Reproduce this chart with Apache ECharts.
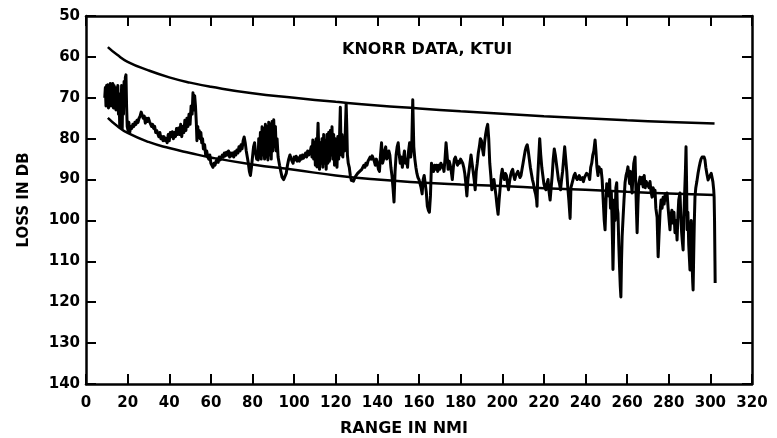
<!DOCTYPE html>
<html>
<head>
<meta charset="utf-8">
<script src="https://cdn.jsdelivr.net/npm/echarts@6/dist/echarts.min.js"></script>
<style>html,body{margin:0;padding:0;background:#fff;}#c{width:777px;height:438px;}</style>
</head>
<body>
<div id="c"></div>
<script>
// ---- data ----
const titleText = 'KNORR DATA, KTUI';
const xName = 'RANGE IN NMI';
const yName = 'LOSS IN DB';

// upper smooth bound [range, loss]
const upperCurve = [[10.5,57.6],[15,59.5],[20,61.2],[30,63.3],[40,65],[50,66.3],[60,67.3],[80,68.9],[100,70],[120,71],[140,71.9],[160,72.6],[180,73.3],[200,73.9],[220,74.5],[240,75],[260,75.5],[280,75.9],[302,76.3]];

// lower smooth bound [range, loss]
const lowerCurve = [[10.5,74.9],[15,76.9],[20,78.6],[30,80.8],[40,82.3],[50,83.5],[60,84.6],[80,86.3],[100,87.6],[120,89],[140,90],[160,90.7],[180,91.2],[200,91.6],[220,92.1],[240,92.5],[260,93],[280,93.4],[302,93.8]];

// measured loss [range, loss]
const measured = [[9,70],[9.3,67.5],[9.6,72],[9.9,67],[10.2,71.5],[10.5,66.8],[10.8,72.5],[11.1,67],[11.4,71],[11.7,66.5],[12,72],[12.3,67.5],[12.6,71.5],[12.9,66.5],[13.2,72.5],[13.5,67],[13.8,71],[14.1,67.5],[14.4,73],[14.7,68],[15,71.5],[15.3,67],[15.6,74],[15.9,69],[16.2,77],[16.5,70],[16.8,76],[17.1,67],[17.4,77.5],[17.7,68],[18,74],[18.3,66],[18.6,71],[18.9,65],[19.2,64.4],[19.5,72],[19.8,77],[20.2,78],[20.6,76],[21,78.5],[21.5,77],[22,77.5],[22.5,76.5],[23,77],[23.5,76],[24,76.5],[24.5,75.5],[25,76],[25.5,75],[26,74.5],[26.5,73.5],[27,73.5],[27.5,75],[28,74.5],[28.5,76.2],[29,75],[29.5,75.8],[30,75],[30.5,75.8],[31,76],[31.5,77],[32,76.5],[32.5,77.5],[33,77],[33.5,78.5],[34,78],[34.5,78.8],[35,79.5],[35.5,78.5],[36,80],[36.5,79.5],[37,80.5],[37.5,79.5],[38,80.5],[38.5,80],[39,81],[39.5,79],[40,80.5],[40.5,78.5],[41,79.5],[41.5,78.3],[42,80],[42.5,78.5],[43,79.5],[43.5,77.5],[44,79],[44.5,77.4],[45,79],[45.5,76.5],[46,79.5],[46.5,77],[47,78.5],[47.5,75.5],[48,78],[48.5,75],[49,77],[49.5,74],[50,76.5],[50.5,72],[51,74],[51.4,68.8],[51.8,73],[52.2,69.5],[52.6,72],[53,76],[53.3,80.5],[53.7,77],[54,79.5],[54.4,78],[54.8,80],[55.2,78.5],[55.6,81],[56,80],[56.4,82.5],[57,81.5],[57.5,84],[58,83],[58.5,84.5],[59,85],[59.5,84],[60,86],[60.5,86.5],[61,87],[61.5,86],[62,86.5],[62.5,85.5],[63,85],[63.5,85.8],[64,84.5],[64.5,85.2],[65,84.8],[65.5,84],[66,84.5],[66.5,83.5],[67,84.2],[67.5,83.3],[68,84],[68.5,83],[69,84.5],[69.5,83.5],[70,84.2],[70.5,83.5],[71,84.5],[71.5,83.2],[72,84],[72.5,82.8],[73,83.5],[73.5,82],[74,83],[74.5,81.5],[75,82.5],[75.5,80.5],[76,79.6],[76.5,81],[77,83],[77.5,84.5],[78,86],[78.5,88],[79,89],[79.5,87],[80,84.5],[80.5,82],[81,81],[81.5,83.5],[82,85],[82.5,84],[82.7,85.2],[83,80],[83.4,84.5],[83.8,78.5],[84.2,85],[84.6,77.1],[85,84],[85.4,77.5],[85.8,85],[86.2,76.5],[86.6,84.5],[87,77],[87.4,85.2],[87.8,76],[88.2,84],[88.6,76.5],[89,85],[89.4,75.8],[89.8,83],[90.2,75.4],[90.6,82],[91,77],[91.4,83],[91.8,80],[92.3,84.5],[93,86.5],[93.6,88],[94.2,89.4],[95,90],[95.6,89.6],[96.2,88.5],[96.8,86.5],[97.4,85],[98,84],[98.5,84.8],[99,85.5],[99.5,86],[100,84.5],[100.5,85.2],[101,84.3],[101.5,85.5],[102,84.7],[102.5,85.5],[103,84.2],[103.5,85],[104,84],[104.5,84.8],[105,84.5],[105.5,83.5],[106,84.5],[106.5,83],[107,84],[107.6,83.5],[108.2,82],[108.6,84.5],[109,80.3],[109.4,85],[109.8,81],[110.2,86.5],[110.6,80],[111,86.9],[111.3,79],[111.5,76.2],[111.8,82],[112.2,87.5],[112.6,81],[113,86],[113.4,80],[113.8,87],[114.2,79],[114.6,86],[115,80.5],[115.4,87.5],[115.8,79],[116.2,86],[116.6,78.5],[117,85.5],[117.4,78],[117.8,84],[118.2,77.1],[118.6,85],[119,79],[119.4,86.5],[119.8,80],[120.2,84],[120.6,87],[121,79.5],[121.4,85],[121.8,80],[122.2,72.3],[122.6,84],[123,79],[123.4,84.5],[123.8,80],[124.2,83],[124.6,78],[125,71.5],[125.3,77],[125.6,84],[126,86],[126.5,87],[127,89],[127.5,90.2],[128,90.6],[128.5,90.4],[129,90],[129.5,89.2],[130,89.5],[130.5,88.5],[131,88.8],[131.5,88],[132,88.4],[132.5,87.5],[133,87.8],[133.5,86.5],[134,87],[134.5,86],[135,86.5],[135.5,85.5],[136,85.8],[136.5,84.5],[137,85],[137.5,84.2],[138,84],[138.5,85.5],[139,86.5],[139.5,85],[140,86],[140.5,87.5],[141,88],[141.5,84],[142,81],[142.5,86],[143,85],[143.5,83],[144,82],[144.5,85],[145,84.5],[145.5,83],[146,84],[146.5,87],[147,89],[147.5,92],[148,95.5],[148.5,88],[149,84],[149.5,82],[150,81],[150.5,84],[151,86],[151.5,84.5],[152,87],[152.5,85],[153,83],[153.5,86],[154,85],[154.5,87],[155,83],[155.5,81],[156,84.5],[156.5,82],[157,70.5],[157.5,82],[158,85],[158.5,87],[159,88.5],[159.5,89.5],[160,90],[160.5,91],[161,92],[161.5,93.5],[162,90],[162.5,89],[163,91],[163.5,93],[164,96.5],[164.5,97.5],[165,98],[165.5,94],[166,86],[166.5,87.5],[167,88],[167.5,86.5],[168,87.5],[168.5,86.5],[169,88],[169.5,86.5],[170,87.5],[170.5,86],[171,87],[171.5,86.5],[172,88],[172.5,85],[173,81],[173.5,84],[174,87.5],[174.5,85.5],[175,86.5],[175.5,88],[176,90],[176.5,87],[177,85],[177.5,84.5],[178,85.5],[178.5,86.5],[179,85.5],[179.5,86],[180,85],[180.5,85.5],[181,86],[181.5,87],[182,88.5],[182.5,91],[183,94],[183.5,90],[184,88],[184.5,86],[185,84],[185.5,86],[186,88],[186.5,90],[187,92.5],[187.5,88],[188,86],[188.5,83.5],[189,82],[189.5,80],[190,80.5],[190.5,82.5],[191,84],[191.5,81],[192,79],[192.5,77.5],[193,76.5],[193.5,80],[194,86],[194.5,89],[195,92.5],[195.5,91],[196,90],[196.5,92],[197,94],[197.5,96.5],[198,98.5],[198.5,95],[199,92],[199.5,89],[200,87.5],[200.5,89],[201,90],[201.5,88.5],[202,89],[202.5,91],[203,92.5],[203.5,90.5],[204,89],[204.5,88],[205,87.5],[205.5,89],[206,90],[206.5,89],[207,88.5],[207.5,88],[208,88.2],[208.5,89.5],[209,89],[209.5,87.5],[210,86],[210.5,84.5],[211,83],[211.5,82],[212,81.5],[212.5,83],[213,85],[213.5,87],[214,88.5],[214.5,90],[215,91],[215.5,92.5],[216,93.5],[216.5,95],[216.7,96.5],[217,90],[217.5,85],[218,80],[218.5,84],[219,87],[219.5,89],[220,91],[220.5,92],[221,92.5],[221.5,91],[222,90],[222.5,93],[223,95],[223.5,92],[224,89],[224.5,85],[225,82.5],[225.5,84],[226,86],[226.5,88],[227,90],[227.5,91],[228,92.5],[228.5,90],[229,88],[229.5,85],[230,82],[230.5,85],[231,88],[231.5,92],[232,95],[232.6,99.5],[233,92],[233.5,91],[234,90],[234.5,89],[235,88.5],[235.5,89.5],[236,90],[236.5,89.5],[237,89],[237.5,90],[238,90],[238.5,89.5],[239,90.5],[239.5,89.5],[240,89],[240.5,88.5],[241,88.5],[241.5,89],[242,90],[242.5,87],[243,86],[243.5,84],[244,83],[244.6,80.3],[245,83],[245.5,87],[246,89],[246.5,86.9],[247,88],[247.5,87.5],[248,90],[248.5,95],[249,100],[249.4,102.3],[249.8,96],[250.2,91],[250.8,90.8],[251.2,94],[251.6,90],[252,97],[252.4,93],[252.7,99],[253,106],[253.2,112],[253.5,104],[253.8,95],[254.2,100],[254.6,92],[255,90.8],[255.3,97],[255.6,98.2],[256,106],[256.4,112],[256.7,116],[257,118.7],[257.3,110],[257.6,104],[258,99.9],[258.5,95],[259,90.8],[259.5,89],[260,88],[260.4,86.9],[260.8,89],[261.2,91],[261.6,88],[262,91],[262.4,93.3],[262.8,89],[263.2,86],[263.8,84.5],[264.2,92],[264.5,98],[264.8,103],[265.2,96],[265.6,91],[266.2,89.4],[266.7,91],[267.2,89.5],[267.7,91.8],[268.2,89],[268.7,92],[269.2,90.5],[270,90.1],[270.5,92],[271,90.5],[271.5,93],[272,94.3],[272.5,92],[273,94],[273.4,92.6],[273.8,97],[274.4,99.2],[274.9,108.9],[275.3,104],[275.8,98.2],[276.3,95],[276.8,97],[277.3,94.3],[277.8,96],[278.3,93.5],[278.8,95],[279.2,93.3],[279.7,97],[280.2,100],[280.6,102.3],[281,99],[281.5,97.5],[282,100.6],[282.5,98],[283,103],[283.5,100],[284,104.8],[284.4,99],[284.8,95],[285.4,93.3],[285.8,99],[286.2,103],[286.5,105],[286.9,107.2],[287.2,100],[287.6,94],[288,88],[288.3,82],[288.6,92],[288.8,102.3],[289.2,98],[289.6,106],[290,110],[290.2,112.1],[290.5,104],[290.8,100],[291.2,110],[291.5,115],[291.7,117],[292,108],[292.3,100],[292.6,94.3],[293,92],[293.5,90.5],[294.1,88.4],[294.6,87],[295,86],[295.5,85],[296,84.5],[296.5,84.8],[297,84.5],[297.4,85.2],[297.8,87],[298.3,88.5],[298.9,90.1],[299.4,89.5],[299.9,89],[300.4,88.5],[300.8,88.4],[301.2,90.5],[301.6,92.5],[301.8,94.3],[302,100],[302.2,110],[302.3,115.3]];

const xMin = 0, xMax = 320, xStep = 20;
const yMin = 50, yMax = 140, yStep = 10;

const FONT = 'DejaVu Sans';
const INK = '#000';
const chart = echarts.init(document.getElementById('c'), null, {renderer: 'canvas'});

const axisLineStyle = {show: true, onZero: false, lineStyle: {color: INK, width: 2.5}};
const tickStyle = {show: true, inside: true, length: 10, lineStyle: {color: INK, width: 2}};
const labelStyle = {color: INK, fontFamily: FONT, fontWeight: 'bold', fontSize: 15};

chart.setOption({
  animation: false,
  backgroundColor: '#fff',
  title: {
    text: titleText, left: 342, top: 42, padding: 0,
    textStyle: {color: INK, fontFamily: FONT, fontWeight: 'bold', fontSize: 16}
  },
  grid: {left: 86, right: 25, top: 16, bottom: 54, containLabel: false, outerBoundsMode: 'none'},
  xAxis: [
    {type: 'value', position: 'bottom', min: xMin, max: xMax, interval: xStep,
     name: xName, nameLocation: 'middle', nameGap: 37,
     nameTextStyle: {color: INK, fontFamily: FONT, fontWeight: 'bold', fontSize: 16, padding: [0, 30, 0, 0]},
     axisLine: axisLineStyle, axisTick: tickStyle,
     axisLabel: Object.assign({margin: 12, hideOverlap: false}, labelStyle),
     splitLine: {show: false}},
    {type: 'value', position: 'top', min: xMin, max: xMax, interval: xStep,
     axisLine: axisLineStyle, axisTick: tickStyle, axisLabel: {show: false}, splitLine: {show: false}}
  ],
  yAxis: [
    {type: 'value', position: 'left', inverse: true, min: yMin, max: yMax, interval: yStep,
     name: yName, nameLocation: 'middle', nameGap: 54,
     nameTextStyle: {color: INK, fontFamily: FONT, fontWeight: 'bold', fontSize: 15},
     axisLine: axisLineStyle, axisTick: tickStyle,
     axisLabel: Object.assign({margin: 6, hideOverlap: false}, labelStyle),
     splitLine: {show: false}},
    {type: 'value', position: 'right', inverse: true, min: yMin, max: yMax, interval: yStep,
     axisLine: axisLineStyle, axisTick: tickStyle, axisLabel: {show: false}, splitLine: {show: false}}
  ],
  series: [
    {type: 'line', data: upperCurve, smooth: true, symbol: 'none', lineStyle: {color: INK, width: 2.5}},
    {type: 'line', data: lowerCurve, smooth: true, symbol: 'none', lineStyle: {color: INK, width: 2.5}},
    {type: 'line', data: measured, smooth: false, symbol: 'none', lineStyle: {color: INK, width: 3, join: 'round'}}
  ]
});
</script>
</body>
</html>
